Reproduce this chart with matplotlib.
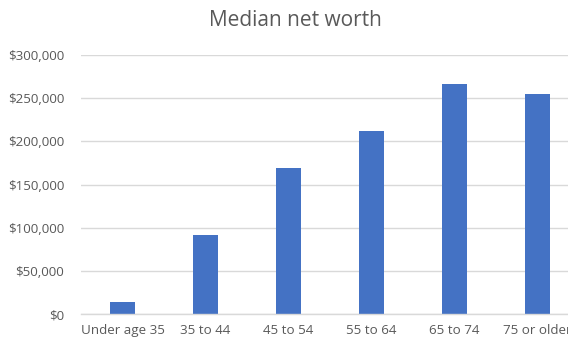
import matplotlib.pyplot as plt
from matplotlib.ticker import FuncFormatter

# data
categories = ["Under age 35", "35 to 44", "45 to 54", "55 to 64", "65 to 74", "75 or older"]
median_net_worth = [13900, 91300, 168600, 212500, 266400, 254800]
y_ticks = [0, 50000, 100000, 150000, 200000, 250000, 300000]

barColor = "#4472C4"
textColor = "#595959"
gridColor = "#D9D9D9"

plt.rcParams['font.family'] = ['Open Sans', 'DejaVu Sans']

fig = plt.figure(figsize=(5.68, 3.45), dpi=100)
# plot area runs slightly past the right edge, like the cropped original
ax = fig.add_axes([81/568, 31/345, 498/568, 259/345])

x = list(range(len(categories)))
ax.bar(x, median_net_worth, width=0.31, color=barColor, zorder=2)

ax.set_xlim(-0.5, len(categories) - 0.5)
ax.set_ylim(0, 300000)
ax.set_yticks(y_ticks)
ax.yaxis.set_major_formatter(FuncFormatter(lambda v, p: "${:,.0f}".format(v)))
ax.set_xticks(x)
ax.set_xticklabels(categories)

ax.grid(axis='y', color=gridColor, linewidth=1, zorder=0)
for s in ['top', 'right', 'left']:
    ax.spines[s].set_visible(False)
ax.spines['bottom'].set_color(gridColor)
ax.spines['bottom'].set_linewidth(1)

ax.tick_params(axis='both', length=0, labelsize=9.6, labelcolor=textColor)
ax.tick_params(axis='y', pad=12)
ax.tick_params(axis='x', pad=7)

fig.text(295/568, 1 - 20/345, "Median net worth", ha='center', va='center',
         fontsize=15, color=textColor)

fig.savefig("out.png", dpi=100)
